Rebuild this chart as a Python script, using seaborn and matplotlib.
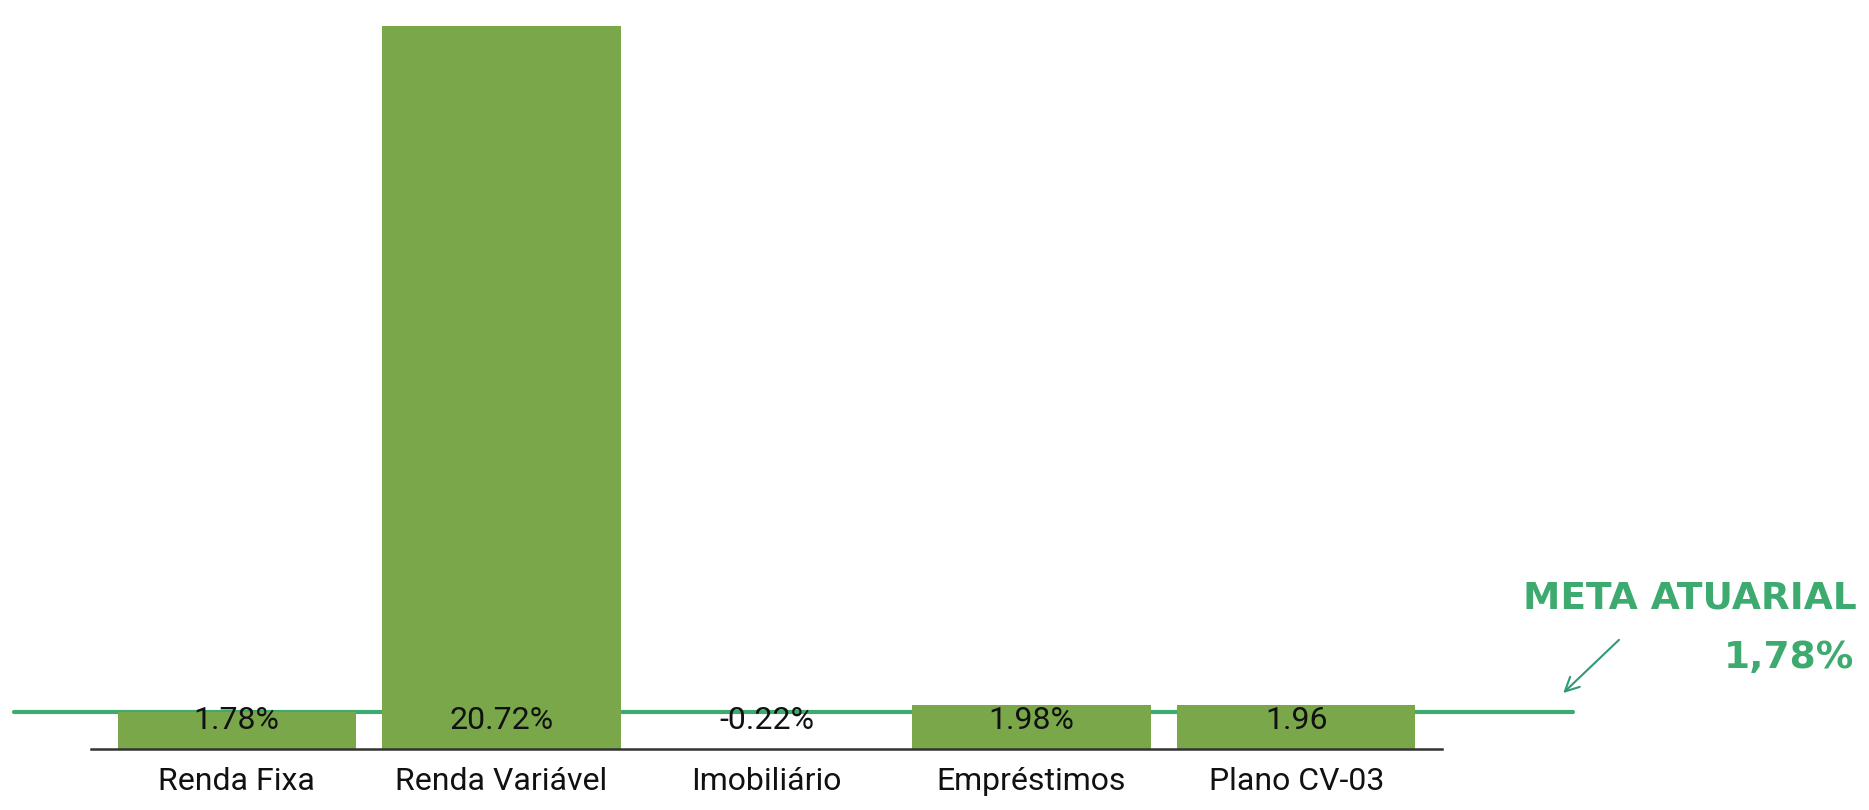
import pandas as pd
import matplotlib.pyplot as plt
import seaborn as sns

# dados
categorias = ['Renda Fixa', 'Renda Variável', 'Imobiliário', 'Empréstimos', 'Plano CV-03']
rentabilidade = [1.78, 20.72, -0.22, 1.98, 1.96]
rotulos = ['1.78%', '20.72%', '-0.22%', '1.98%', '1.96']
meta_atuarial = 1.78
meta_texto = '1,78%'

verde_barra = '#79A74A'
verde_meta = '#3DAA6F'

sns.set_theme(style='white')
plt.rcParams['font.family'] = ['Roboto', 'DejaVu Sans']

df = pd.DataFrame({'categoria': categorias, 'valor': rentabilidade})

fig = plt.figure(figsize=(18.69, 8.10), dpi=100)
ax = fig.add_axes([0.0487, 0.0753, 0.7228, 0.8927])

sns.barplot(data=df, x='categoria', y='valor', color=verde_barra, width=0.9,
            saturation=1, linewidth=0, ax=ax, zorder=2)

# linha da meta atuarial (passa por trás das barras e sai do eixo)
ax.plot([-0.84, 5.045], [meta_atuarial, meta_atuarial], color=verde_meta,
        lw=3, clip_on=False, zorder=1)

ax.set_ylim(0.756, 20.72)
ax.set_xlim(-0.55, 4.55)

# rótulos de valor
for i, r in enumerate(rotulos):
    ax.text(i, 1.53, r, ha='center', va='center', fontsize=23, color='#111111', zorder=3)

ax.set_xlabel('')
ax.set_ylabel('')
ax.set_yticks([])
ax.tick_params(axis='x', length=0, pad=13, labelsize=23, labelcolor='#111111')
for s in ['left', 'right', 'top']:
    ax.spines[s].set_visible(False)
ax.spines['bottom'].set_color('#333333')
ax.spines['bottom'].set_linewidth(1.8)

# anotação da meta
fig.text(0.9935, 0.261, 'META ATUARIAL', ha='right', va='center', fontsize=27,
         fontweight='heavy', color=verde_meta, family=['DejaVu Sans'])
fig.text(0.992, 0.188, meta_texto, ha='right', va='center', fontsize=27,
         fontweight='heavy', color=verde_meta, family=['DejaVu Sans'])
fig.add_artist(plt.matplotlib.patches.FancyArrowPatch(
    (0.8673, 0.2124), (0.8353, 0.142), transform=fig.transFigure,
    arrowstyle='->', mutation_scale=25, color='#2E9A78', lw=1.5))

plt.savefig('out.png', dpi=100)
